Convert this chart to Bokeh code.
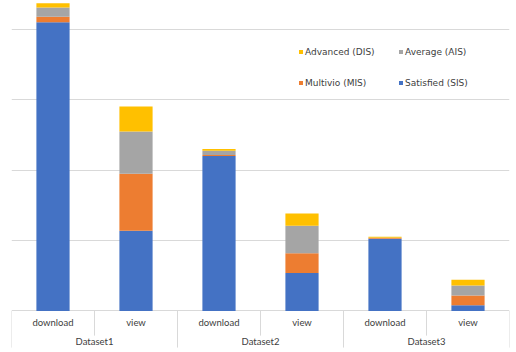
from bokeh.plotting import figure
from bokeh.models import (FactorRange, Range1d, ColumnDataSource, Grid, FixedTicker,
                          Legend, LegendItem)
from bokeh.core.properties import value
from bokeh.embed import file_html
from bokeh.resources import INLINE

datasets = ["Dataset1", "Dataset2", "Dataset3"]
actions = ["download", "view"]
series = ["Satisfied (SIS)", "Multivio (MIS)", "Average (AIS)", "Advanced (DIS)"]
colors = ["#4472C4", "#ED7D31", "#A5A5A5", "#FFC000"]

satisfied = [410, 114, 220, 54, 102.5, 8]
multivio = [8, 81, 1.5, 28, 1, 14]
average = [13, 60, 6, 39, 0.5, 14]
advanced = [6, 35.5, 2.5, 17.5, 1.5, 8.5]

factors = [(d, a) for d in datasets for a in actions]
ncell = len(factors)

src = ColumnDataSource(dict(x=factors, s=satisfied, m=multivio, a=average, d=advanced))

p = figure(width=516, height=352, output_backend="svg", toolbar_location=None,
           x_range=FactorRange(*factors, range_padding=0, group_padding=0, factor_padding=0),
           y_range=Range1d(-59, 441), x_axis_location=None, y_axis_location=None,
           min_border_left=11, min_border_right=7, min_border_top=0, min_border_bottom=0)
p.outline_line_color = None
for g in p.grid:
    g.visible = False

grid = Grid(dimension=1, ticker=FixedTicker(ticks=[0, 100, 200, 300, 400]),
            grid_line_color="#d9d9d9", grid_line_width=1)
p.add_layout(grid)

rs = p.vbar_stack(["s", "m", "a", "d"], x="x", width=0.4, source=src,
                  color=colors, line_color=None)

# category table lines (synthetic coordinates: one unit per cell)
inner_x = [float(i + 1) for i in range(0, ncell, 2)]
outer_x = [float(i) for i in range(0, ncell + 1, 2)]
p.segment(x0=inner_x, x1=inner_x, y0=[0] * len(inner_x), y1=[-35] * len(inner_x),
          line_color="#d9d9d9", line_width=1)
p.segment(x0=outer_x, x1=outer_x, y0=[0] * len(outer_x), y1=[-52] * len(outer_x),
          line_color="#d9d9d9", line_width=1)

p.text(x=factors, y=[-17] * ncell, text=[f[1] for f in factors],
       text_align="center", text_baseline="middle", text_font=value("Lato"),
       text_font_size="9.5px", text_color="#404040")
p.text(x=[d for d in datasets], y=[-44] * len(datasets), text=datasets,
       text_align="center", text_baseline="middle",
       text_font=value("Lato"), text_font_size="9.5px", text_color="#404040")

items = [LegendItem(label=series[3], renderers=[rs[3]]),
         LegendItem(label=series[2], renderers=[rs[2]]),
         LegendItem(label=series[1], renderers=[rs[1]]),
         LegendItem(label=series[0], renderers=[rs[0]])]
legend = Legend(items=items, location=(287, 257), orientation="horizontal", nrows=2,
                border_line_color=None, background_fill_alpha=0, padding=0, margin=0,
                glyph_width=5, glyph_height=5, label_standoff=2, label_width=87,
                label_height=25, spacing=6, label_text_font="DejaVu Sans",
                label_text_font_size="9px", label_text_color="#404040")
p.add_layout(legend)

open("out.html", "w").write(file_html(p, INLINE))
